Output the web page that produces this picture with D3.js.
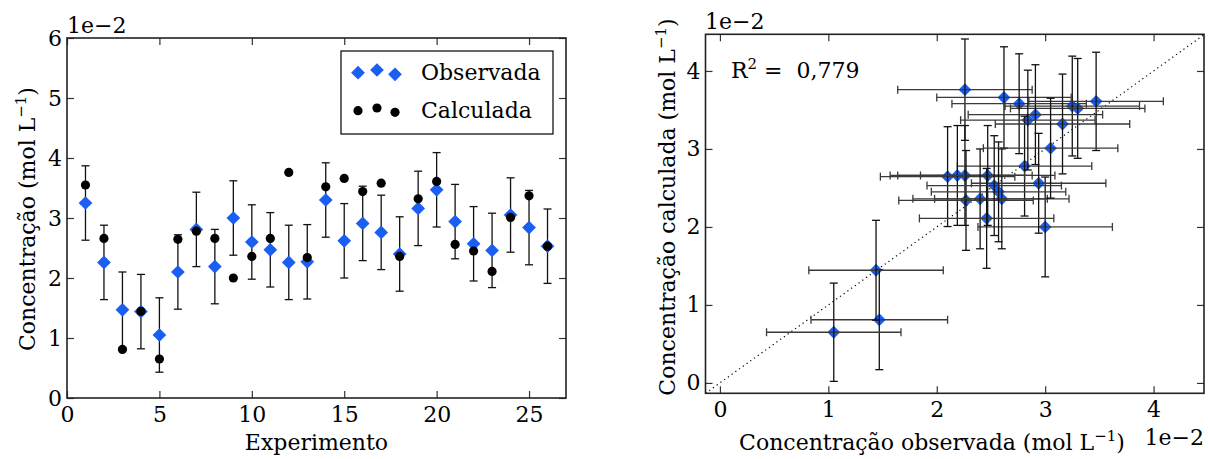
<!DOCTYPE html>
<html>
<head>
<meta charset="utf-8">
<script src="https://d3js.org/d3.v7.min.js"></script>
<style>
  body { margin: 0; background: #fff; }
  svg text { font-family: "DejaVu Serif", serif; fill: #000; }
</style>
</head>
<body>
<svg id="chart" width="1208" height="459"></svg>
<script>
// experiment numbers and concentrations (x 1e-2 mol/L)
const experiments = d3.range(1, 27);
const observed = [3.25, 2.26, 1.47, 1.44, 1.05, 2.10, 2.81, 2.19, 3.00, 2.60, 2.47, 2.26, 2.27,
                  3.30, 2.62, 2.91, 2.76, 2.40, 3.16, 3.47, 2.94, 2.57, 2.46, 3.05, 2.84, 2.53];
const calculated = [3.55, 2.66, 0.81, 1.445, 0.65, 2.645, 2.78, 2.66, 2.00, 2.36, 2.66, 3.76, 2.34,
                    3.52, 3.66, 3.44, 3.58, 2.36, 3.32, 3.61, 2.56, 2.45, 2.11, 3.01, 3.37, 2.53];
const errObserved = [0.62, 0.62, 0.63, 0.62, 0.62, 0.62, 0.62, 0.62, 0.62, 0.62, 0.62, 0.62, 0.62,
                     0.62, 0.62, 0.62, 0.62, 0.62, 0.62, 0.62, 0.62, 0.62, 0.62, 0.62, 0.62, 0.62];
const errCalculated = [0.64, 0.64, 0.64, 0.64, 0.63, 0.64, 0.64, 0.64, 0.64, 0.64, 0.64, 0.65, 0.64,
                       0.64, 0.65, 0.64, 0.64, 0.64, 0.64, 0.63, 0.64, 0.64, 0.64, 0.64, 0.64, 0.64];
const leftXTicks = [0, 5, 10, 15, 20, 25];
const leftYTicks = [0, 1, 2, 3, 4, 5, 6];
const rightTicks = [0, 1, 2, 3, 4];
const legendLabels = ["Observada", "Calculada"];
const r2Text = "0,779";

const BLUE = "#1a5ff2";
const svg = d3.select("#chart");
const rows = experiments.map((e, i) => ({
  e, obs: observed[i], calc: calculated[i], eo: errObserved[i], ec: errCalculated[i]
}));

const diamond = d3.symbol().type(d3.symbolDiamond2);

function frame(x, y, xt, yt, fmtX) {
  const [x0, x1] = x.range(), [y0, y1] = y.range();
  const g = svg.append("g");
  const tick = 7;
  const bottom = g.append("g").attr("transform", `translate(0,${y0})`)
    .call(d3.axisBottom(x).tickValues(xt).tickSizeInner(-tick).tickSizeOuter(0).tickPadding(8).tickFormat(fmtX));
  const top = g.append("g").attr("transform", `translate(0,${y1})`)
    .call(d3.axisTop(x).tickValues(xt).tickSizeInner(-tick).tickSizeOuter(0).tickFormat(""));
  const left = g.append("g").attr("transform", `translate(${x0},0)`)
    .call(d3.axisLeft(y).tickValues(yt).tickSizeInner(-tick).tickSizeOuter(0).tickPadding(5).tickFormat(d3.format("d")));
  const right = g.append("g").attr("transform", `translate(${x1},0)`)
    .call(d3.axisRight(y).tickValues(yt).tickSizeInner(-tick).tickSizeOuter(0).tickFormat(""));
  [bottom, top, left, right].forEach(a => {
    a.select(".domain").remove();
    a.attr("font-size", 22).attr("font-family", "DejaVu Serif");
    a.selectAll(".tick line").attr("stroke", "#333").attr("stroke-width", 1.2);
    a.selectAll("text").style("font-size", "22px").attr("fill", "#000");
  });
  g.append("rect").attr("x", x0).attr("y", y1).attr("width", x1 - x0).attr("height", y0 - y1)
    .attr("fill", "none").attr("stroke", "#222").attr("stroke-width", 1.6);
  return g;
}

function labelWithUnit(g, text) {
  g.append("tspan").text(text + " (mol L");
  g.append("tspan").attr("baseline-shift", "super").style("font-size", "15px").text("\u22121");
  g.append("tspan").text(")");
}

// ---------- left panel ----------
const xL = d3.scaleLinear().domain([0, 27]).range([67, 566]);
const yL = d3.scaleLinear().domain([0, 6]).range([398, 38]);

const gL = svg.append("g");
const capW = 4;
const barsL = gL.append("g").attr("stroke", "#111").attr("stroke-width", 1.3);
rows.forEach(d => {
  const cx = xL(d.e), ya = yL(d.obs + d.eo), yb = yL(d.obs - d.eo);
  barsL.append("line").attr("x1", cx).attr("x2", cx).attr("y1", ya).attr("y2", yb);
  barsL.append("line").attr("x1", cx - capW).attr("x2", cx + capW).attr("y1", ya).attr("y2", ya);
  barsL.append("line").attr("x1", cx - capW).attr("x2", cx + capW).attr("y1", yb).attr("y2", yb);
});
gL.selectAll("path.obs").data(rows).join("path").attr("class", "obs")
  .attr("d", diamond.size(120)).attr("fill", BLUE)
  .attr("transform", d => `translate(${xL(d.e)},${yL(d.obs)})`);
gL.selectAll("circle.calc").data(rows).join("circle").attr("class", "calc")
  .attr("cx", d => xL(d.e)).attr("cy", d => yL(d.calc)).attr("r", 4.6).attr("fill", "#000");

frame(xL, yL, leftXTicks, leftYTicks, d3.format("d"));

svg.append("text").attr("x", 67).attr("y", 33).style("font-size", "22px").text("1e\u22122");
svg.append("text").attr("x", (67 + 566) / 2).attr("y", 450).attr("text-anchor", "middle")
  .style("font-size", "22px").text("Experimento");
const ylabL = svg.append("text").attr("text-anchor", "middle").style("font-size", "22px")
  .attr("transform", "translate(35,219) rotate(-90)");
labelWithUnit(ylabL, "Concentração");

// legend
const lg = svg.append("g");
lg.append("rect").attr("x", 341).attr("y", 51).attr("width", 212).attr("height", 83)
  .attr("fill", "#fff").attr("stroke", "#000").attr("stroke-width", 1.2);
const lx = [358, 377, 395], lo = [0, -2.7, 1.6];
lx.forEach((x, i) => {
  lg.append("path").attr("d", diamond.size(120)).attr("fill", BLUE)
    .attr("transform", `translate(${x},${72.7 + lo[i]})`);
  lg.append("circle").attr("cx", x).attr("cy", 110.7 + lo[i]).attr("r", 4.6).attr("fill", "#000");
});
lg.append("text").attr("x", 421).attr("y", 80).style("font-size", "22px").text(legendLabels[0]);
lg.append("text").attr("x", 421).attr("y", 118).style("font-size", "22px").text(legendLabels[1]);

// ---------- right panel ----------
const xR = d3.scaleLinear().domain([-0.133, 4.465]).range([705.5, 1204]);
const yR = d3.scaleLinear().domain([-0.133, 4.47]).range([393.3, 34.3]);

const gR = svg.append("g");
gR.append("line")
  .attr("x1", xR(-0.133)).attr("y1", yR(-0.133)).attr("x2", xR(4.465)).attr("y2", yR(4.465))
  .attr("stroke", "#000").attr("stroke-width", 1.2).attr("stroke-dasharray", "1.2,3.4");
gR.selectAll("path.pt").data(rows).join("path").attr("class", "pt")
  .attr("d", diamond.size(105)).attr("fill", BLUE)
  .attr("transform", d => `translate(${xR(d.obs)},${yR(d.calc)})`);
const barsR = gR.append("g").attr("stroke-width", 1.3);
rows.forEach(d => {
  const cx = xR(d.obs), cy = yR(d.calc);
  const xa = xR(d.obs - d.eo), xb = xR(d.obs + d.eo);
  const ya = yR(d.calc + d.ec), yb = yR(d.calc - d.ec);
  const h = barsR.append("g").attr("stroke", "#3a3a3a");
  h.append("line").attr("x1", xa).attr("x2", xb).attr("y1", cy).attr("y2", cy);
  h.append("line").attr("x1", xa).attr("x2", xa).attr("y1", cy - capW).attr("y2", cy + capW);
  h.append("line").attr("x1", xb).attr("x2", xb).attr("y1", cy - capW).attr("y2", cy + capW);
  const v = barsR.append("g").attr("stroke", "#111");
  v.append("line").attr("x1", cx).attr("x2", cx).attr("y1", ya).attr("y2", yb);
  v.append("line").attr("x1", cx - capW).attr("x2", cx + capW).attr("y1", ya).attr("y2", ya);
  v.append("line").attr("x1", cx - capW).attr("x2", cx + capW).attr("y1", yb).attr("y2", yb);
});

frame(xR, yR, rightTicks, rightTicks, d3.format("d"));

svg.append("text").attr("x", 705).attr("y", 29).style("font-size", "22px").text("1e\u22122");
svg.append("text").attr("x", 1204).attr("y", 445).attr("text-anchor", "end")
  .style("font-size", "22px").text("1e\u22122");
const r2 = svg.append("text").attr("x", 731).attr("y", 78).style("font-size", "22px");
r2.append("tspan").text("R");
r2.append("tspan").attr("baseline-shift", "super").style("font-size", "15px").text("2");
r2.append("tspan").text(" = \u00a0" + r2Text);

const xlabR = svg.append("text").attr("x", 932).attr("y", 450).attr("text-anchor", "middle")
  .style("font-size", "22px");
labelWithUnit(xlabR, "Concentração observada");
const ylabR = svg.append("text").attr("text-anchor", "middle").style("font-size", "22px")
  .attr("transform", "translate(675,207) rotate(-90)");
labelWithUnit(ylabR, "Concentração calculada");
</script>
</body>
</html>
